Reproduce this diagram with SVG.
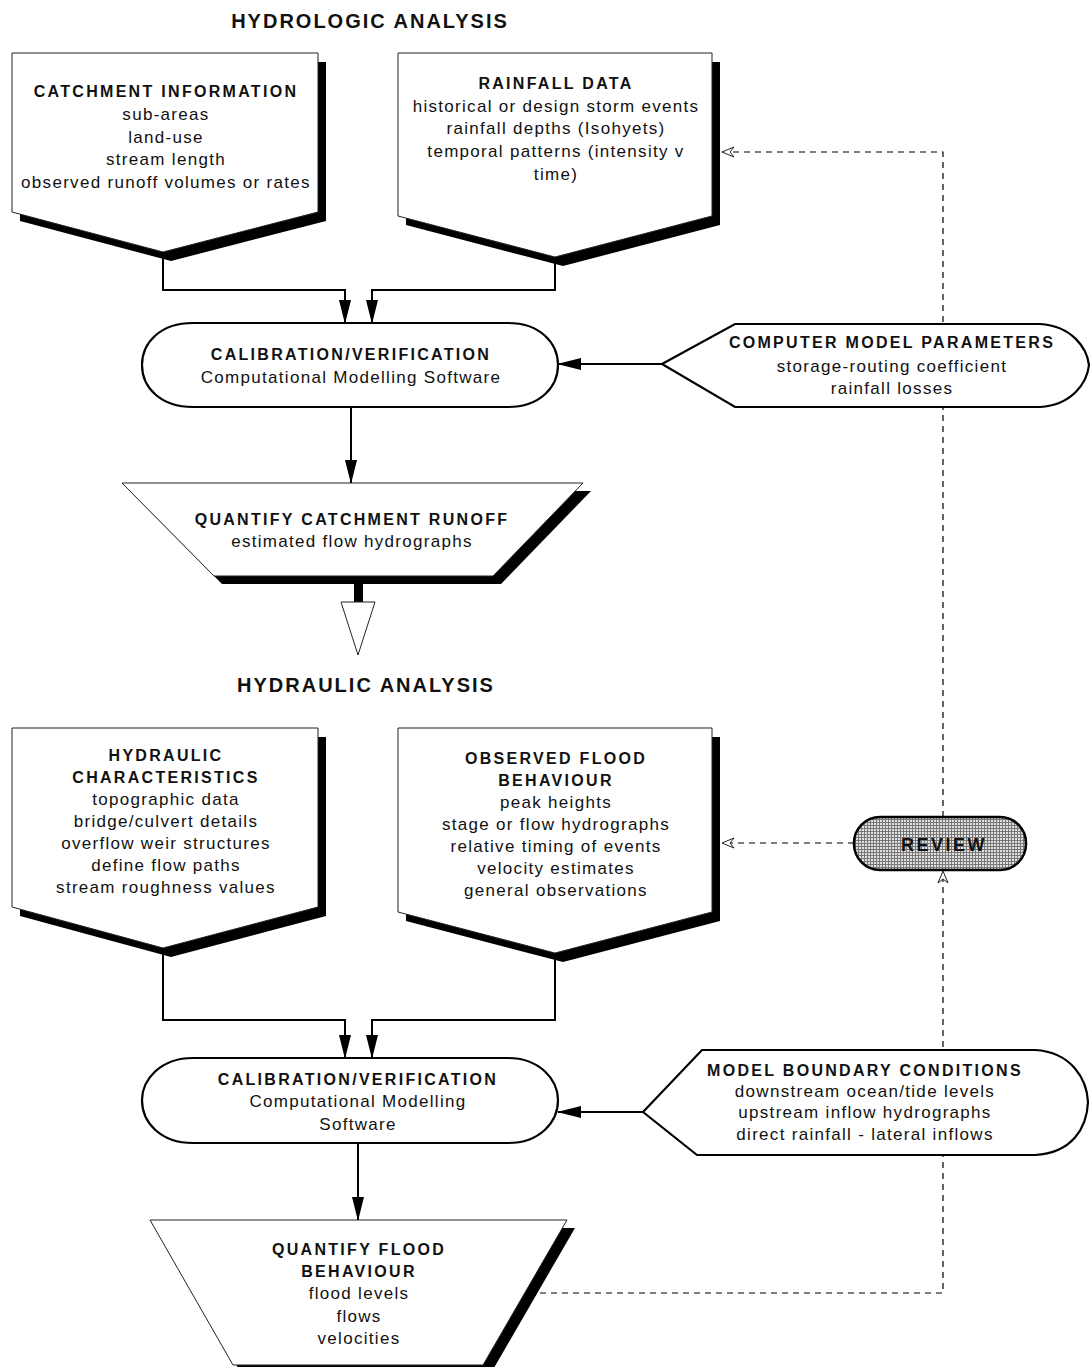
<svg xmlns="http://www.w3.org/2000/svg" width="1091" height="1367" viewBox="0 0 1091 1367">
<defs>
<style>
text{font-family:"Liberation Sans",Arial,sans-serif;fill:#111;text-anchor:middle}
.t{font-size:20px;font-weight:bold;letter-spacing:2px}
.h{font-size:16px;font-weight:bold;letter-spacing:2.3px}
.n{font-size:17px;letter-spacing:1.3px}
.box{fill:#fff;stroke:#222;stroke-width:1}
.sh{fill:#000}
.oval{fill:#fff;stroke:#000;stroke-width:2.2}
.con{fill:none;stroke:#000;stroke-width:2}
.dash{fill:none;stroke:#000;stroke-width:1.2;stroke-dasharray:6,5}
</style>
<marker id="ar" viewBox="0 -7 24 14" refX="23" refY="0" markerWidth="24" markerHeight="14" markerUnits="userSpaceOnUse" orient="auto">
<path d="M0,-6 L24,0 L0,6 Z" fill="#000"/>
</marker>
<marker id="oa" viewBox="-1 -6 14 12" refX="12" refY="0" markerWidth="14" markerHeight="12" markerUnits="userSpaceOnUse" orient="auto">
<path d="M12,0 L0,-5 L4,0 L0,5 Z" fill="#fff" stroke="#222" stroke-width="1"/>
</marker>
<pattern id="hatch" width="3" height="3" patternUnits="userSpaceOnUse">
<rect width="3" height="3" fill="#e0e0e0"/>
<path d="M0,0.5H3M0.5,0V3" stroke="#777" stroke-width="1"/>
</pattern>
</defs>

<text class="t" x="370" y="28">HYDROLOGIC ANALYSIS</text>
<text class="t" x="366" y="692">HYDRAULIC ANALYSIS</text>

<g id="connectors">
<path class="con" d="M163,252 V290 H345 V323" marker-end="url(#ar)"/>
<path class="con" d="M555,257 V290 H372 V323" marker-end="url(#ar)"/>
<path class="con" d="M351,407 V483" marker-end="url(#ar)"/>
<path class="con" d="M662,364 H558" marker-end="url(#ar)"/>
<rect x="354" y="584" width="9" height="19" fill="#000"/>
<path d="M341,602 L375,602 L358,655 Z" fill="#fff" stroke="#222" stroke-width="1"/>
<path class="con" d="M163,948 V1020 H345 V1058" marker-end="url(#ar)"/>
<path class="con" d="M555,953 V1020 H372 V1058" marker-end="url(#ar)"/>
<path class="con" d="M358,1143 V1220" marker-end="url(#ar)"/>
<path class="con" d="M643,1112 H558" marker-end="url(#ar)"/>
<path class="dash" d="M540,1293 H943 V871" marker-end="url(#oa)"/>
<path class="dash" d="M943,817 V152 H722" marker-end="url(#oa)"/>
<path class="dash" d="M854,843 H722" marker-end="url(#oa)"/>
</g>

<g id="catchment">
<polygon class="sh" points="20,62 326,62 326,221 171,261 20,221"/>
<polygon class="box" points="12,53 318,53 318,212 163,252 12,212"/>
<text class="h" x="166" y="97">CATCHMENT INFORMATION</text>
<text class="n" x="166" y="120">sub-areas</text>
<text class="n" x="166" y="143">land-use</text>
<text class="n" x="166" y="165">stream length</text>
<text class="n" x="166" y="188">observed runoff volumes or rates</text>
</g>

<g id="rainfall">
<polygon class="sh" points="406,62 720,62 720,225 563,266 406,225"/>
<polygon class="box" points="398,53 712,53 712,216 555,257 398,216"/>
<text class="h" x="556" y="89">RAINFALL DATA</text>
<text class="n" x="556" y="112">historical or design storm events</text>
<text class="n" x="556" y="134">rainfall depths (Isohyets)</text>
<text class="n" x="556" y="157">temporal patterns (intensity v</text>
<text class="n" x="556" y="180">time)</text>
</g>

<g id="calibration1">
<path class="oval" d="M193,323 L508,323 C540,323 558,343 558,365 C558,387 540,407 508,407 L193,407 C160,407 142,387 142,365 C142,343 160,323 193,323 Z"/>
<text class="h" x="351" y="360">CALIBRATION/VERIFICATION</text>
<text class="n" x="351" y="383">Computational Modelling Software</text>
</g>

<g id="parameters">
<path class="oval" d="M662,364 L735,324 L1040,324 C1072,326 1087,348 1089,365 C1087,383 1072,405 1040,407 L735,407 Z"/>
<text class="h" x="892" y="348">COMPUTER MODEL PARAMETERS</text>
<text class="n" x="892" y="372">storage-routing coefficient</text>
<text class="n" x="892" y="394">rainfall losses</text>
</g>

<g id="runoff">
<polygon class="sh" points="130,491 591,491 501,584 222,584"/>
<polygon class="box" points="122,483 583,483 493,576 214,576"/>
<text class="h" x="352" y="525">QUANTIFY CATCHMENT RUNOFF</text>
<text class="n" x="352" y="547">estimated flow  hydrographs</text>
</g>

<g id="hydraulic">
<polygon class="sh" points="20,737 326,737 326,916 171,957 20,916"/>
<polygon class="box" points="12,728 318,728 318,907 163,948 12,907"/>
<text class="h" x="166" y="761">HYDRAULIC</text>
<text class="h" x="166" y="783">CHARACTERISTICS</text>
<text class="n" x="166" y="805">topographic data</text>
<text class="n" x="166" y="827">bridge/culvert details</text>
<text class="n" x="166" y="849">overflow weir structures</text>
<text class="n" x="166" y="871">define flow paths</text>
<text class="n" x="166" y="893">stream roughness values</text>
</g>

<g id="observed">
<polygon class="sh" points="406,737 720,737 720,921 563,962 406,921"/>
<polygon class="box" points="398,728 712,728 712,912 555,953 398,912"/>
<text class="h" x="556" y="764">OBSERVED FLOOD</text>
<text class="h" x="556" y="786">BEHAVIOUR</text>
<text class="n" x="556" y="808">peak heights</text>
<text class="n" x="556" y="830">stage or flow  hydrographs</text>
<text class="n" x="556" y="852">relative timing of events</text>
<text class="n" x="556" y="874">velocity estimates</text>
<text class="n" x="556" y="896">general observations</text>
</g>

<g id="review">
<rect x="854" y="817" width="172" height="53" rx="26" ry="26" fill="url(#hatch)" stroke="#000" stroke-width="2.5"/>
<text x="944" y="851" style="font-size:18px;font-weight:bold;letter-spacing:2.5px">REVIEW</text>
</g>

<g id="calibration2">
<path class="oval" d="M193,1058 L508,1058 C540,1058 558,1080 558,1100 C558,1122 540,1143 508,1143 L193,1143 C160,1143 142,1122 142,1100 C142,1080 160,1058 193,1058 Z"/>
<text class="h" x="358" y="1085">CALIBRATION/VERIFICATION</text>
<text class="n" x="358" y="1107">Computational Modelling</text>
<text class="n" x="358" y="1130">Software</text>
</g>

<g id="boundary">
<path class="oval" d="M643,1112 L702,1050 L1035,1050 C1072,1052 1087,1080 1088,1102 C1087,1128 1072,1153 1035,1155 L697,1155 Z"/>
<text class="h" x="865" y="1076">MODEL BOUNDARY CONDITIONS</text>
<text class="n" x="865" y="1097">downstream ocean/tide levels</text>
<text class="n" x="865" y="1118">upstream inflow  hydrographs</text>
<text class="n" x="865" y="1140">direct rainfall - lateral inflows</text>
</g>

<g id="flood">
<polygon class="sh" points="158,1228 575,1228 491,1373 241,1373"/>
<polygon class="box" points="150,1220 567,1220 483,1365 233,1365"/>
<text class="h" x="359" y="1255">QUANTIFY FLOOD</text>
<text class="h" x="359" y="1277">BEHAVIOUR</text>
<text class="n" x="359" y="1299">flood levels</text>
<text class="n" x="359" y="1322">flows</text>
<text class="n" x="359" y="1344">velocities</text>
</g>
</svg>
